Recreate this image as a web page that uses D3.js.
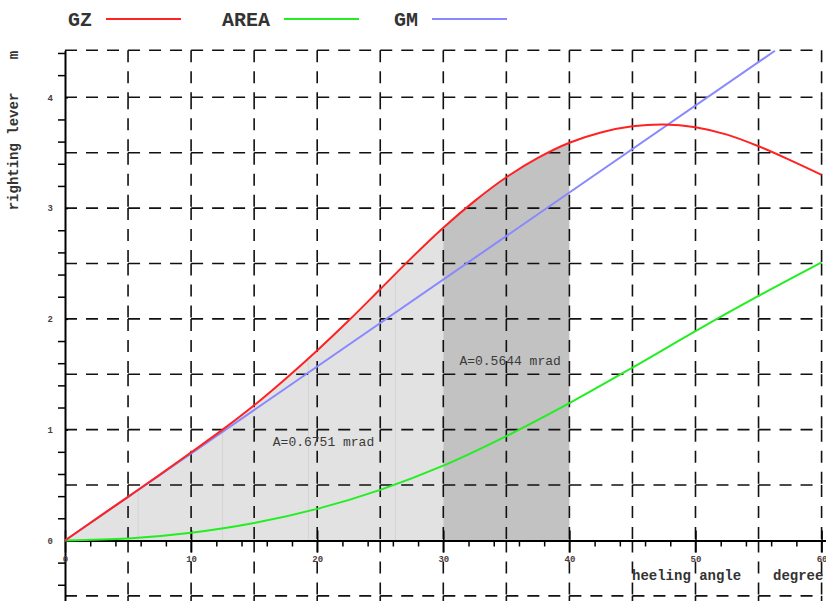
<!DOCTYPE html>
<html>
<head>
<meta charset="utf-8">
<script src="https://cdn.jsdelivr.net/npm/d3@7"></script>
<style>
  html, body { margin: 0; padding: 0; background: #fff; }
  svg { display: block; font-family: "Liberation Mono", "Courier New", monospace; }
</style>
</head>
<body>
<svg id="chart" width="826" height="601"></svg>
<script>
// Heel angles (degrees) and righting lever GZ (m)
const angles   = [0, 2.5, 5, 7.5, 10, 12.5, 15, 17.5, 20, 22.5, 25, 27.5, 30,
                  32.5, 35, 37.5, 40, 42.5, 45, 47.5, 50, 52.5, 55, 57.5, 60];
const gzValues = [0, 0.197, 0.394, 0.592, 0.795, 1.000, 1.220, 1.460, 1.715, 1.985, 2.268, 2.553, 2.823,
                  3.065, 3.278, 3.453, 3.590, 3.683, 3.738, 3.755, 3.730, 3.663, 3.558, 3.433, 3.300];

// Area under the GZ curve (m·rad)
const areaAngles = [0, 5, 10, 15, 20, 25, 30, 35, 40, 45, 50, 55, 60];
const areaValues = [0, 0.017, 0.069, 0.157, 0.285, 0.457, 0.675, 0.942, 1.2395, 1.56, 1.89, 2.207, 2.51];

// Initial metacentric height line
const gmAngles = [0, 56.3];
const gmValues = [0, 4.42];

// Integrated ranges and their areas
const rangeFrom   = [0, 30];
const rangeTo     = [30, 40];
const rangeAreas  = ["0.6751", "0.5644"];

// Seams between the strips that make up the light area
const stripEdges = [5.8, 12.5, 19.3, 26.2];

// Axis ticks and grid
const xMajorTicks = [0, 10, 20, 30, 40, 50, 60];
const yMajorTicks = [0, 1, 2, 3, 4];
const xGridLines  = [0, 5, 10, 15, 20, 25, 30, 35, 40, 45, 50, 55, 60];
const yGridLines  = [-0.5, 0.5, 1, 1.5, 2, 2.5, 3, 3.5, 4];

const seriesNames  = ["GZ", "AREA", "GM"];
const seriesColors = ["#ff2222", "#22ee22", "#8888ff"];

const svg = d3.select("#chart");

const xMax = 60.35, yMin = -0.55, yMax = 4.425;
const x = d3.scaleLinear().domain([0, xMax]).range([65, 826]);
const y = d3.scaleLinear().domain([yMin, yMax]).range([601.4, 50.2]);

const gzData   = angles.map((a, i) => [a, gzValues[i]]);
const areaData = areaAngles.map((a, i) => [a, areaValues[i]]);
const gmData   = gmAngles.map((a, i) => [a, gmValues[i]]);

const curve = d3.curveCatmullRom.alpha(0.5);
const lineGen = d3.line().x(d => x(d[0])).y(d => y(d[1])).curve(curve);
const areaGen = d3.area().x(d => x(d[0])).y0(y(0)).y1(d => y(d[1])).curve(curve);

// shaded integration ranges
const fills = ["#e2e2e2", "#c2c2c2"];
rangeFrom.forEach((f, i) => {
  const seg = gzData.filter(d => d[0] >= f && d[0] <= rangeTo[i]);
  svg.append("path").attr("d", areaGen(seg)).attr("fill", fills[i]);
  if (i === 0) {
    svg.append("clipPath").attr("id", "lightClip")
      .append("path").attr("d", areaGen(seg));
  }
});
svg.append("g").attr("clip-path", "url(#lightClip)")
  .selectAll("line").data(stripEdges).join("line")
  .attr("x1", d => x(d)).attr("x2", d => x(d))
  .attr("y1", y(0)).attr("y2", y(yMax))
  .attr("stroke", "#d4d4d4").attr("stroke-width", 1);

// dashed grid, drawn cell edge by cell edge
const grid = svg.append("g").attr("stroke", "#111").attr("stroke-width", 1.6)
  .attr("stroke-dasharray", "12,9").attr("fill", "none");
const hLevels = yGridLines.concat([yMax]);
hLevels.forEach(v => {
  for (let i = 0; i < xGridLines.length - 1; i++) {
    grid.append("line")
      .attr("x1", x(xGridLines[i])).attr("x2", x(xGridLines[i + 1]))
      .attr("y1", y(v)).attr("y2", y(v));
  }
});
const vLevels = [yMax, 4, 3.5, 3, 2.5, 2, 1.5, 1, 0.5, 0, -0.5, yMin];
xGridLines.slice(1).forEach(a => {
  for (let i = 0; i < vLevels.length - 1; i++) {
    grid.append("line")
      .attr("x1", x(a)).attr("x2", x(a))
      .attr("y1", y(vLevels[i])).attr("y2", y(vLevels[i + 1]));
  }
});

// axes
const axisFont = g => g.selectAll("text")
  .attr("font-family", "'Liberation Mono', monospace")
  .attr("font-size", 9).attr("font-weight", "bold").attr("fill", "#4a4040");

const yMinor = d3.range(-2, 23).map(k => +(k * 0.2).toFixed(1)).filter(v => !Number.isInteger(v));
svg.append("g").attr("transform", `translate(${x(0)},0)`)
  .call(d3.axisLeft(y).tickValues(yMinor).tickSize(7).tickSizeOuter(0).tickFormat(""))
  .call(g => g.select(".domain").attr("stroke", "#000").attr("stroke-width", 2))
  .call(g => g.selectAll(".tick line").attr("stroke", "#000").attr("stroke-width", 1.5));
svg.append("g").attr("transform", `translate(${x(0)},0)`)
  .call(d3.axisLeft(y).tickValues(yMajorTicks).tickSize(9).tickPadding(3).tickFormat(d3.format("d")))
  .call(g => g.select(".domain").remove())
  .call(g => g.selectAll(".tick line").attr("x2", 3).attr("stroke", "#000").attr("stroke-width", 1.5))
  .call(axisFont);

const xMinor = d3.range(2, 61, 2).filter(v => v % 10 !== 0);
svg.append("g").attr("transform", `translate(0,${y(0)})`)
  .call(d3.axisBottom(x).tickValues(xMinor).tickSize(6).tickSizeOuter(0).tickFormat(""))
  .call(g => g.select(".domain").attr("stroke", "#000").attr("stroke-width", 2))
  .call(g => g.selectAll(".tick line").attr("stroke", "#000").attr("stroke-width", 1.5));
svg.append("g").attr("transform", `translate(0,${y(0)})`)
  .call(d3.axisBottom(x).tickValues(xMajorTicks).tickSize(12).tickPadding(3).tickFormat(d3.format("d")))
  .call(g => g.select(".domain").remove())
  .call(g => g.selectAll(".tick line").attr("y1", -10).attr("stroke", "#000").attr("stroke-width", 1.5))
  .call(axisFont);

// curves
svg.append("path").attr("d", lineGen(areaData)).attr("fill", "none")
  .attr("stroke", seriesColors[1]).attr("stroke-width", 2);
svg.append("path").attr("d", d3.line().x(d => x(d[0])).y(d => y(d[1]))(gmData)).attr("fill", "none")
  .attr("stroke", seriesColors[2]).attr("stroke-width", 2);
svg.append("path").attr("d", lineGen(gzData)).attr("fill", "none")
  .attr("stroke", seriesColors[0]).attr("stroke-width", 2);

// area labels
const labelPos = [[20.5, 0.855], [35.3, 1.585]];
rangeAreas.forEach((a, i) => {
  svg.append("text")
    .attr("x", x(labelPos[i][0])).attr("y", y(labelPos[i][1]))
    .attr("text-anchor", "middle").attr("font-size", 13).attr("fill", "#3a3a3a")
    .text(`A=${a} mrad`);
});

// axis titles
const title = svg.append("g").attr("font-size", 14).attr("font-weight", "bold").attr("fill", "#333");
title.append("text").attr("transform", "translate(18,55) rotate(-90)")
  .attr("text-anchor", "middle").text("m");
title.append("text").attr("transform", "translate(18,151.5) rotate(-90)")
  .attr("text-anchor", "middle").text("righting lever");
title.append("text").attr("x", 632).attr("y", 580).text("heeling angle");
title.append("text").attr("x", 773).attr("y", 580).text("degree");

// legend
const legendX = [68, 222, 394];
const legend = svg.append("g");
seriesNames.forEach((n, i) => {
  const t = legend.append("text").attr("x", legendX[i]).attr("y", 26)
    .attr("font-size", 20).attr("font-weight", "bold").attr("fill", "#333").text(n);
  const w = t.node().getComputedTextLength();
  legend.append("line")
    .attr("x1", legendX[i] + w + 14).attr("x2", legendX[i] + w + 89)
    .attr("y1", 19).attr("y2", 19)
    .attr("stroke", seriesColors[i]).attr("stroke-width", 2);
});
</script>
</body>
</html>
